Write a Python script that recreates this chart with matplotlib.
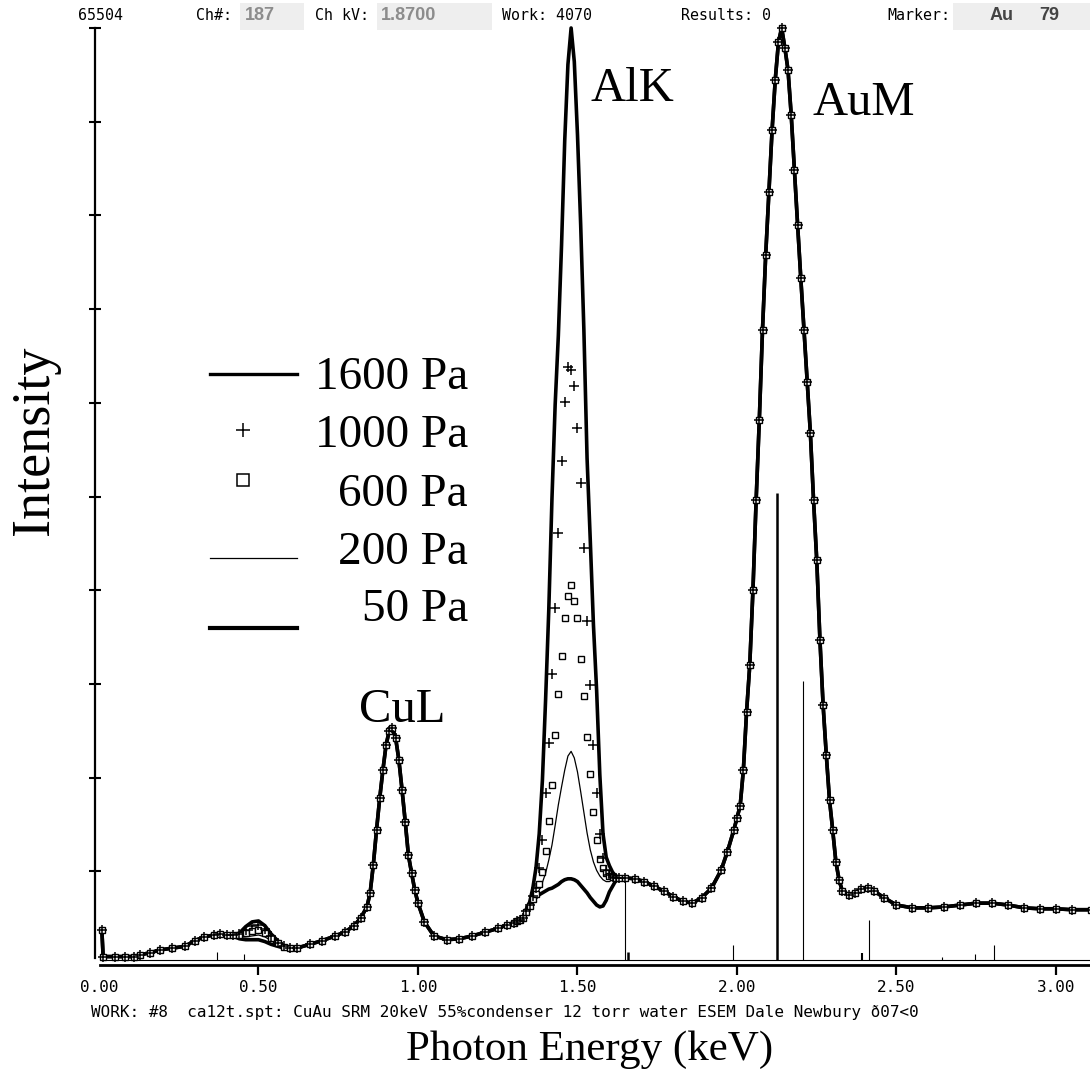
"""
EDS spectra of CuAu SRM in the ESEM at five chamber pressures.
Recreates the 'Photon Energy (keV)' vs 'Intensity' figure with the
spectrum-window header and footer of the analyser display.
"""

import numpy as np
import matplotlib.pyplot as plt
from matplotlib.lines import Line2D
from matplotlib.patches import Rectangle

W, H = 1090, 1082
SERIF = "Liberation Serif"
MONO = "DejaVu Sans Mono"

# --- spectrum data, intensity in tick units (10 = full scale) ---
# stretches where all five pressures overlap
e_low = [0.009, 0.013, 0.05, 0.08, 0.11, 0.13, 0.16, 0.19, 0.23, 0.27,
         0.30, 0.33, 0.36, 0.38]
i_low = [0.37, 0.09, 0.09, 0.09, 0.09, 0.11, 0.13, 0.16, 0.18, 0.20,
         0.26, 0.30, 0.32, 0.33]

e_mid = [0.60, 0.62, 0.66, 0.70, 0.74, 0.77, 0.80, 0.82, 0.84, 0.85,
         0.86, 0.87, 0.88, 0.89, 0.90, 0.91, 0.92, 0.93, 0.94, 0.95,
         0.96, 0.97, 0.98, 0.99, 1.00, 1.02, 1.05, 1.09, 1.13, 1.17,
         1.21, 1.25, 1.28]
i_mid = [0.18, 0.18, 0.22, 0.26, 0.31, 0.35, 0.42, 0.50, 0.62, 0.77,
         1.07, 1.44, 1.78, 2.08, 2.35, 2.50, 2.53, 2.42, 2.19, 1.87,
         1.53, 1.17, 0.98, 0.80, 0.66, 0.46, 0.31, 0.27, 0.28, 0.31,
         0.35, 0.39, 0.43]

e_high = [1.65, 1.68, 1.71, 1.74, 1.77, 1.80, 1.83, 1.86, 1.89, 1.92,
          1.95, 1.97, 1.99, 2.00, 2.01, 2.02, 2.03, 2.04, 2.05, 2.06,
          2.07, 2.08, 2.09, 2.10, 2.11, 2.12, 2.13, 2.14, 2.15, 2.16,
          2.17, 2.18, 2.19, 2.20, 2.21, 2.22, 2.23, 2.24, 2.25, 2.26,
          2.27, 2.28, 2.29, 2.30, 2.31, 2.32, 2.33, 2.35, 2.37, 2.39,
          2.41, 2.43, 2.46, 2.50, 2.55, 2.60, 2.65, 2.70, 2.75, 2.80,
          2.85, 2.90, 2.95, 3.00, 3.05, 3.11]
i_high = [0.93, 0.92, 0.89, 0.84, 0.79, 0.73, 0.68, 0.66, 0.72, 0.82,
          1.01, 1.21, 1.44, 1.57, 1.70, 2.08, 2.70, 3.20, 4.00, 4.96,
          5.82, 6.78, 7.58, 8.25, 8.91, 9.45, 9.85, 10.00, 9.79, 9.55,
          9.07, 8.48, 7.90, 7.33, 6.78, 6.22, 5.68, 4.96, 4.32, 3.47,
          2.77, 2.24, 1.76, 1.44, 1.10, 0.91, 0.79, 0.75, 0.77, 0.81,
          0.82, 0.79, 0.72, 0.64, 0.61, 0.61, 0.62, 0.64, 0.66, 0.66,
          0.64, 0.61, 0.60, 0.60, 0.59, 0.59]

# O K region, one curve per pressure
e_ok = [0.40, 0.42, 0.44, 0.46, 0.48, 0.50, 0.52, 0.54, 0.56, 0.58]
ok_1600 = [0.32, 0.32, 0.34, 0.41, 0.46, 0.47, 0.42, 0.33, 0.26, 0.20]
ok_1000 = [0.32, 0.32, 0.33, 0.37, 0.42, 0.43, 0.38, 0.31, 0.24, 0.20]
ok_600 = [0.32, 0.32, 0.32, 0.34, 0.36, 0.37, 0.34, 0.29, 0.23, 0.19]
ok_200 = [0.32, 0.31, 0.30, 0.30, 0.31, 0.32, 0.30, 0.26, 0.21, 0.19]
ok_50 = [0.32, 0.31, 0.28, 0.27, 0.27, 0.27, 0.25, 0.22, 0.20, 0.18]

# Al K region, one curve per pressure (10 eV channels)
e_alk = [1.30, 1.31, 1.32, 1.33, 1.34, 1.35, 1.36, 1.37, 1.38, 1.39,
         1.40, 1.41, 1.42, 1.43, 1.44, 1.45, 1.46, 1.47, 1.48, 1.49,
         1.50, 1.51, 1.52, 1.53, 1.54, 1.55, 1.56, 1.57, 1.58, 1.59,
         1.60, 1.61, 1.62, 1.63]
alk_1600 = [0.45, 0.47, 0.48, 0.51, 0.60, 0.67, 0.82, 1.04, 1.40, 1.97,
            2.83, 3.79, 4.98, 5.98, 6.72, 7.68, 8.80, 9.61, 10.00, 9.64,
            8.86, 7.90, 6.78, 5.41, 4.54, 3.63, 2.93, 2.03, 1.40, 1.15,
            1.06, 0.99, 0.95, 0.93]
alk_1000 = [0.45, 0.47, 0.48, 0.50, 0.58, 0.64, 0.74, 0.82, 1.04, 1.33,
            1.84, 2.37, 3.11, 3.81, 4.61, 5.38, 6.01, 6.38, 6.35, 6.18,
            5.73, 5.14, 4.45, 3.67, 2.99, 2.35, 1.84, 1.40, 1.14, 1.01,
            0.96, 0.94, 0.93, 0.93]
alk_600 = [0.45, 0.47, 0.48, 0.50, 0.57, 0.63, 0.70, 0.76, 0.86, 0.99,
           1.22, 1.54, 1.92, 2.45, 2.89, 3.30, 3.70, 3.94, 4.06, 3.88,
           3.70, 3.27, 2.87, 2.43, 2.04, 1.63, 1.33, 1.13, 1.04, 0.98,
           0.95, 0.94, 0.93, 0.93]
alk_200 = [0.45, 0.47, 0.48, 0.49, 0.55, 0.62, 0.68, 0.74, 0.80, 0.88,
           0.98, 1.12, 1.28, 1.49, 1.71, 1.90, 2.08, 2.23, 2.28, 2.21,
           2.06, 1.85, 1.63, 1.41, 1.23, 1.10, 1.01, 0.95, 0.91, 0.89,
           0.89, 0.91, 0.92, 0.93]
alk_50 = [0.45, 0.47, 0.48, 0.49, 0.55, 0.62, 0.67, 0.72, 0.75, 0.77,
          0.79, 0.81, 0.82, 0.84, 0.86, 0.89, 0.91, 0.92, 0.92, 0.91,
          0.89, 0.85, 0.81, 0.77, 0.72, 0.68, 0.64, 0.62, 0.63, 0.69,
          0.78, 0.84, 0.90, 0.93]

# element marker lines drawn by the analyser
zero_level = 0.05
klm_energy = [0.370, 0.455, 1.649, 1.659, 1.987, 2.125, 2.207, 2.392,
              2.414, 2.643, 2.746, 2.806]
klm_height = [0.14, 0.12, 0.91, 0.14, 0.21, 5.04, 3.03, 0.13,
              0.48, 0.09, 0.12, 0.21]
klm_width = [0.8, 0.8, 0.8, 1.8, 0.8, 1.8, 0.8, 1.5, 0.8, 0.8, 0.8, 0.8]

x_ticks = [0.0, 0.5, 1.0, 1.5, 2.0, 2.5, 3.0]
y_ticks = [1, 2, 3, 4, 5, 6, 7, 8, 9, 10]

pressures = ["1600 Pa", "1000 Pa", "600 Pa", "200 Pa", "50 Pa"]


def spectrum(ok, alk):
    e = np.concatenate([e_low, e_ok, e_mid, e_alk, e_high])
    i = np.concatenate([i_low, ok, i_mid, alk, i_high])
    return e, i


def fx(px):
    return px / W


def fy(py):
    return 1 - py / H


fig = plt.figure(figsize=(W / 100, H / 100), dpi=100)
ax = fig.add_axes([fx(95), fy(965), fx(995), (965 - 28) / H])
ax.set_xlim(-0.0125, 3.1066)
ax.set_ylim(0, 10)

styles = [
    dict(color="black", lw=2.6, ls="-"),
    dict(color="black", ls="none", marker="+", ms=6.5, mew=1.1),
    dict(color="black", ls="none", marker="s", ms=4.8, mew=1.0, mfc="white"),
    dict(color="black", lw=0.9, ls="-"),
    dict(color="black", lw=2.6, ls="-"),
]
curves = [(ok_1600, alk_1600), (ok_1000, alk_1000), (ok_600, alk_600),
          (ok_200, alk_200), (ok_50, alk_50)]
zorders = [3, 5, 4, 3, 3]

ax.axhline(zero_level, xmin=fx(102 - 95) / fx(995), color="black", lw=0.8)
ax.vlines(klm_energy, zero_level, klm_height, colors="black",
          linewidths=klm_width, zorder=2)

for (ok, alk), st, z in zip(curves, styles, zorders):
    e, i = spectrum(ok, alk)
    ax.plot(e, i, clip_on=False, zorder=z, **st)

# axes frame
for side in ("top", "right"):
    ax.spines[side].set_visible(False)
ax.spines["left"].set_linewidth(1.6)
ax.spines["left"].set_bounds(0.07, 10)
ax.spines["bottom"].set_linewidth(2.0)
ax.spines["bottom"].set_bounds(0.003, 3.1066)

ax.set_yticks(y_ticks)
ax.tick_params(axis="y", direction="inout", length=8, width=1.5,
               labelleft=False)
ax.set_xticks(x_ticks)
ax.set_xticklabels([f"{v:.2f}" for v in x_ticks])
ax.tick_params(axis="x", direction="out", length=7.5, width=1.6, pad=3,
               labelsize=11.5)
for lbl in ax.get_xticklabels():
    lbl.set_fontfamily(MONO)
ax.xaxis.get_major_ticks()[0].tick1line.set_visible(False)

# peak labels
ax.text(1.671, 9.35, "AlK", family=SERIF, fontsize=35, ha="center", va="center")
ax.text(2.398, 9.2, "AuM", family=SERIF, fontsize=35, ha="center", va="center")
ax.text(0.952, 2.72, "CuL", family=SERIF, fontsize=35, ha="center", va="center")

fig.text(fx(35), fy(440), "Intensity", family=SERIF, fontsize=39,
         rotation=90, ha="center", va="center")
fig.text(fx(590), fy(1050), "Photon Energy (keV)", family=SERIF, fontsize=31,
         ha="center", va="center")

# legend drawn by hand: right-aligned labels, handles to the left
text_y = [378, 436, 495, 553, 610]
handle_y = [374, 430, 480, 558, 628]
for k, lab in enumerate(pressures):
    fig.text(fx(468), fy(text_y[k]), lab, family=SERIF, fontsize=34,
             ha="right", va="center")
fig.add_artist(Line2D([fx(210), fx(297)], [fy(handle_y[0])] * 2,
                      color="black", lw=2.4))
fig.add_artist(Line2D([fx(243)], [fy(handle_y[1])], color="black",
                      marker="+", ms=9.5, mew=1.1, ls="none"))
fig.add_artist(Line2D([fx(243)], [fy(handle_y[2])], color="black",
                      marker="s", ms=8, mew=1.1, mfc="white", ls="none"))
fig.add_artist(Line2D([fx(210), fx(297)], [fy(handle_y[3])] * 2,
                      color="black", lw=0.9))
fig.add_artist(Line2D([fx(210), fx(297)], [fy(handle_y[4])] * 2,
                      color="black", lw=3.0))

# analyser header
box_color = "#eeeeee"
for x0, x1 in [(240, 304), (377, 492), (953, 1090)]:
    fig.add_artist(Rectangle((fx(x0), fy(30)), fx(x1 - x0), 27 / H,
                             facecolor=box_color, edgecolor="none"))
header = [(78, "65504"), (196, "Ch#:"), (315, "Ch kV:"), (502, "Work: 4070"),
          (681, "Results: 0"), (887, "Marker:")]
for x0, s in header:
    fig.text(fx(x0), fy(15), s, family=MONO, fontsize=10.8,
             ha="left", va="center")
for x0, s, col in [(245, "187", "#8c8c8c"), (381, "1.8700", "#8c8c8c"),
                   (990, "Au", "#444444"), (1039, "79", "#444444")]:
    fig.text(fx(x0), fy(16), s, family="Liberation Sans", fontsize=13,
             fontweight="bold", color=col, ha="left", va="center")

fig.text(fx(91), fy(1013),
         "WORK: #8  ca12t.spt: CuAu SRM 20keV 55%condenser 12 torr water "
         "ESEM Dale Newbury ð07<0",
         family=MONO, fontsize=11.5, ha="left", va="center")

fig.savefig("out.png", dpi=100)
